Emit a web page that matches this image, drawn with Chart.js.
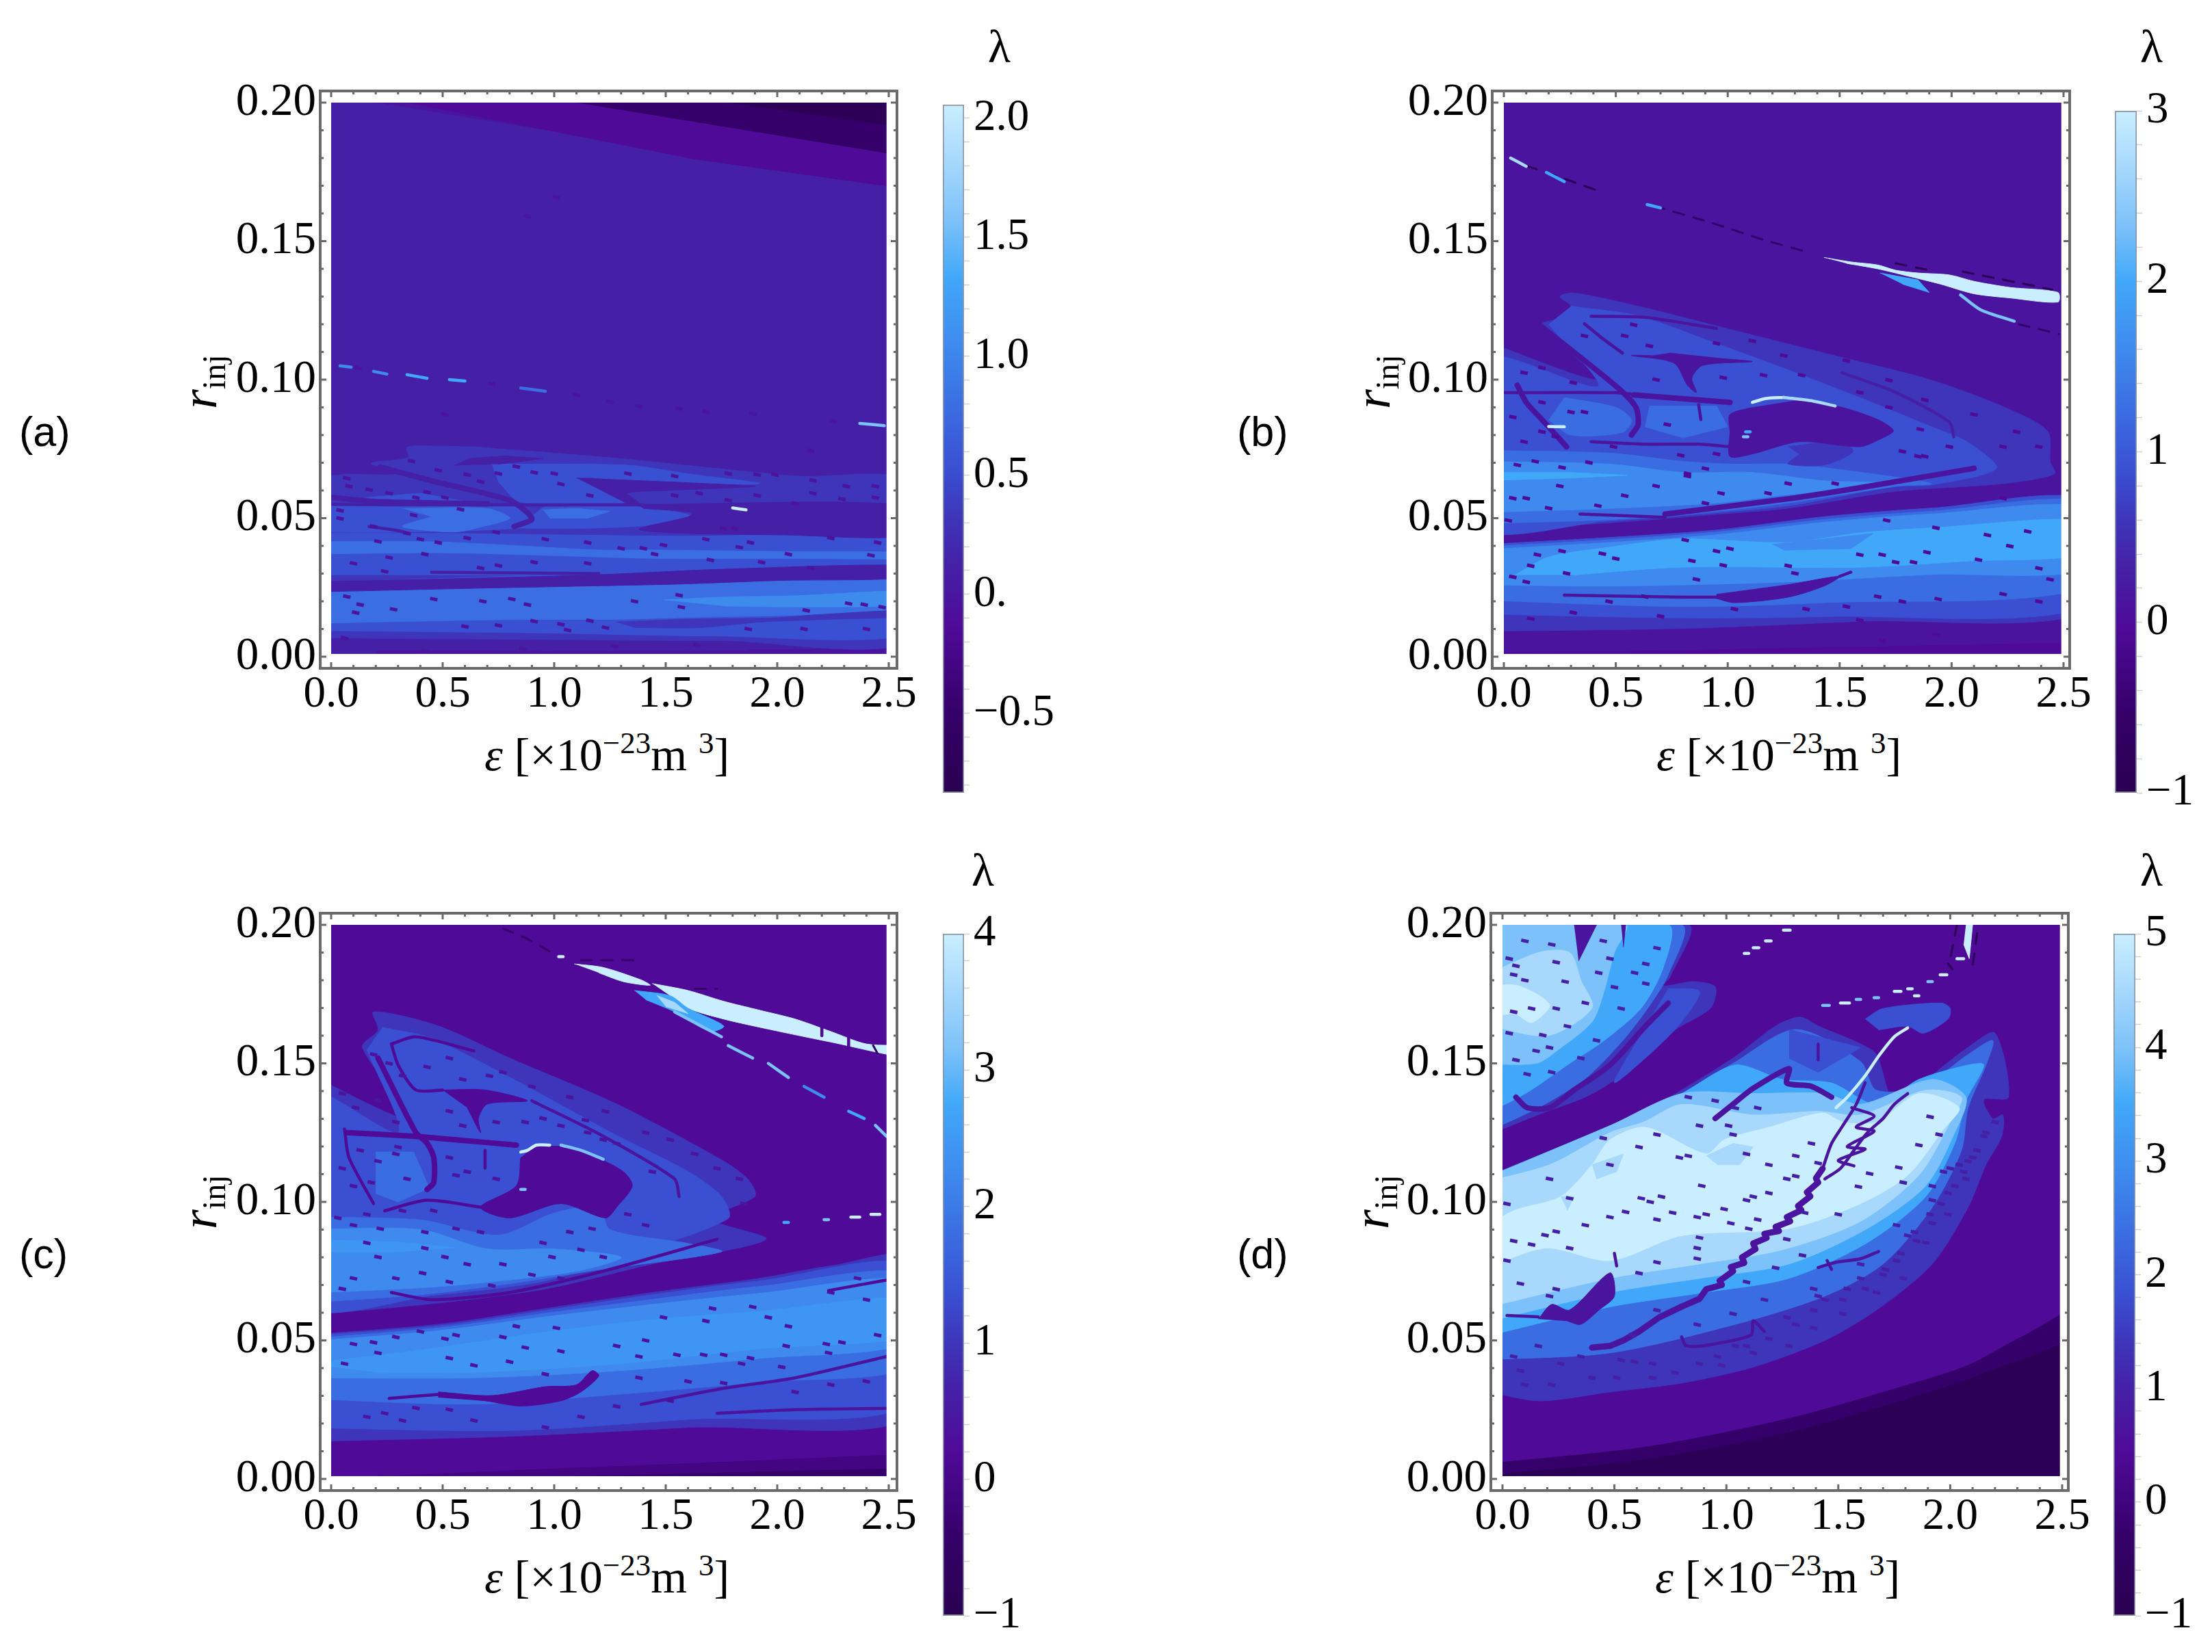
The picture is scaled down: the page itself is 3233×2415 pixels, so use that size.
<!DOCTYPE html>
<html><head><meta charset="utf-8">
<script src="https://cdn.jsdelivr.net/npm/chart.js@4/dist/chart.umd.min.js"></script>
<style>
html,body{margin:0;padding:0;background:#fff;width:3233px;height:2415px;overflow:hidden}
canvas{position:absolute}
.t{position:absolute;font-family:"Liberation Serif",serif;font-size:68px;color:#000;white-space:nowrap;line-height:1}
.t sup{font-size:45px;position:relative;vertical-align:baseline;top:-25px}
.t sub{font-size:48px;position:relative;vertical-align:baseline;top:13px}
.r{font-size:74px}
.s{font-family:"Liberation Sans",sans-serif;font-size:61px}
</style></head><body>
<script>
// ---------- tick labels ----------
const xTicks=[0,0.5,1,1.5,2,2.5];
const yTicks=[0,0.05,0.1,0.15,0.2];
const barTicksA=[-0.5,0,0.5,1,1.5,2];
const barTicksB=[-1,0,1,2,3];
const barTicksC=[-1,0,1,2,3,4];
const barTicksD=[-1,0,1,2,3,4,5];
const barRangeA=[-0.834,2.057], barRangeB=[-1,3], barRangeC=[-1,4], barRangeD=[-1,5];
// ---------- λ value of each contour level, per panel ----------
const levelsA=[-.75,-.49,-.14,-.02,.12,.32,.53,.79,1.05,1.33,1.57,1.82,2.06,-.31,1.16];
const levelsB=[-.88,-.52,-.04,.12,.32,.6,.88,1.24,1.6,2,2.32,2.68,3,-.28,1.76];
const levelsC=[-.85,-.4,.2,.4,.65,1,1.35,1.8,2.25,2.75,3.15,3.6,4,-.1,2.45];
const levelsD=[-.82,-.28,.44,.68,.98,1.4,1.82,2.36,2.9,3.5,3.98,4.52,5,.08,3.14];

// ---------- panel (a) ----------
const regionsA=[
[4,[[0,.001],[2.49,.001],[2.49,.2],[0,.2]]],
[3,[[.2,.001],[2.49,.001],[2.49,.0025],[1.87,.0025],[1.87,.002],[.2,.002]]],
[3,[[.2,.2],[2.49,.2],[2.49,.1685]]],
[2,[[.34,.2],[2.49,.2],[2.49,.1685],[1.6,.18]]],
[1,[[1.1,.2],[2.49,.2],[2.49,.18]]],
[0,[[1.78,.2],[2.49,.2],[2.49,.1905]]],
[5,[[0,.0068],[1,.0062],[1.75,.0058],[2.49,.0068],[2.49,.0619],[2.08,.0652],[1.6,.069],[1.35,.0711],[1,.0735],[.72,.0752],[.67,.0756],[.48,.076],[.34,.0756],[.345,.0719],[.18,.0698],[.3,.066],[.1,.0658],[.06,.0658],[0,.0645]]],
[6,[[0,.0095],[1,.0085],[1.7,.0075],[2.49,.0085],[2.49,.0295],[0,.027]]],
[6,[[0,.0295],[2.49,.0315],[2.49,.0437],[2,.044],[1.6,.0435],[1,.044],[.5,.0445],[0,.0445]]],
[6,[[.72,.0695],[1.05,.0695],[1.35,.069],[1.6,.066],[1.92,.0625],[1.45,.0625],[1.12,.0645],[1.32,.0558],[.85,.0558],[.75,.063]]],
[6,[[0,.0545],[.8,.0545],[.9,.0495],[.85,.0465],[.3,.045],[0,.045]]],
[6,[[.95,.054],[1.4,.054],[1.62,.0505],[1.4,.0472],[.85,.0465],[.88,.0495]]],
[6,[[.1,.0555],[.64,.0555],[.4,.059],[.16,.0575]]],
[7,[[.32,.0535],[.7,.0535],[.8,.05],[.68,.047],[.55,.045],[.32,.047],[.45,.0505]]],
[7,[[.95,.053],[1.1,.0535],[1.25,.0525],[1.15,.05],[.98,.05]]],
[7,[[0,.0415],[.45,.0415],[.85,.04],[1.2,.0385],[1.45,.0385],[2,.038],[2.49,.0375],[2.49,.0355],[2,.0355],[1.45,.0355],[1,.0365],[.5,.0375],[0,.037]]],
[7,[[0,.0233],[.59,.0246],[1.07,.0254],[1.55,.0262],[2,.0275],[2.49,.0287],[2.49,.017],[2.08,.015],[1.6,.0142],[1.28,.0135],[.8,.0134],[0,.012]]],
[8,[[1.49,.0205],[1.76,.0215],[2.08,.022],[2.49,.0235],[2.49,.019],[2.08,.018],[1.76,.0183]]],
[5,[[1.28,.0125],[1.6,.0135],[1.99,.014],[2.15,.015],[2.49,.0168],[2.49,.0147],[2.24,.0135],[1.92,.0125],[1.65,.0105],[1.36,.0105]]],
[4,[[0,.0233],[.59,.0246],[1.07,.0254],[1.55,.0262],[2,.0275],[2.49,.0287],[2.49,.0329],[1.76,.0316],[1.2,.0296],[.48,.028],[0,.027]]],
[4,[[1.37,.055],[2.49,.0545],[2.49,.044],[2,.044],[1.6,.0445],[1.38,.046],[1.6,.0505],[1.62,.052],[1.4,.0535]]],
[4,[[1.1,.0645],[1.68,.0625],[1.9,.0615],[1.5,.06],[1.33,.059],[1.38,.0555],[1.32,.0555]]],
[4,[[.55,.069],[.62,.0715],[.78,.0725],[.95,.0715],[.75,.0695]]]
];
const channelsA=[
[4,[[.22,.0685],[.45,.0635],[.8,.0565],[.88,.052],[.9,.0495],[.82,.047]]],
[4,[[0,.0575],[.2,.056],[.7,.0552]]]
];
const finesA=[
[4,[[0,.055],[.3,.0548],[1.4,.0548]]],
[4,[[.17,.047],[.3,.0455],[.35,.0445]]],
[4,[[.45,.0305],[1.2,.03]]]
];
const specksA=[[.07,.0644],[.08,.0615],[.17,.0603],[.26,.059],[.43,.0594],[.38,.0574],[.51,.0574],[.48,.0673],[.36,.0706],[.61,.0657],[.67,.0632],[.75,.0661],[.83,.0686],[.91,.0665],[1,.0661],[1.16,.0582],[1.03,.0623],[1.33,.0661],[1.54,.0652],[1.65,.059],[1.78,.0661],[1.91,.0657],[1.99,.0657],[2.16,.0636],[2.31,.0615],[2.44,.0615],[2.16,.059],[1.91,.0582],[1.78,.0565],[2.08,.0553],[2.44,.0574],[2.29,.0569],[1.54,.0582],[.58,.0532],[.37,.0511],[.04,.0528],[.04,.0499],[.19,.047],[.34,.0445],[.4,.0424],[.21,.0416],[.48,.0412],[.61,.0428],[.74,.0449],[.96,.0424],[1.15,.0412],[1.3,.0391],[1.49,.0403],[1.68,.0424],[1.88,.0412],[2.24,.0428],[2.45,.0412],[2.05,.037],[1.83,.0395],[1.4,.0391],[.26,.0358],[.42,.037],[.1,.0337],[.24,.0308],[.67,.032],[.75,.0329],[.91,.0341],[1.15,.0337],[1.45,.037],[1.7,.0349],[1.93,.0341],[2.15,.032],[2.42,.0366],[.07,.0217],[.13,.0188],[.28,.0171],[.11,.0159],[.46,.0208],[.68,.02],[.81,.0208],[.88,.0188],[1.36,.02],[1.56,.0222],[1.57,.0179],[2.13,.0167],[2.32,.0192],[2.39,.0188],[2.47,.0179],[.91,.0128],[1.03,.0117],[1.16,.013],[.6,.0109],[.75,.0113],[1.06,.0096],[1.23,.0105],[1.87,.01],[2.12,.01],[2.4,.01],[.06,.0067],[.42,.002],[.86,.0028],[1.27,.0038],[1.64,.0042],[2.15,.0744],[1.76,.0462],[1.81,.0462],[1.01,.1658],[.88,.159],[.51,.0874],[.12,.1042],[.72,.0985],[1.1,.0945],[1.25,.092],[1.38,.0905],[1.56,.0895],[1.68,.0885],[1.89,.0877],[2.25,.085]];
const glintsA=[
[8,[[.04,.105],[.09,.1045]]],[8,[[.19,.103],[.25,.102]]],[9,[[.34,.1018],[.43,.1005]]],[9,[[.53,.1],[.6,.0995]]],[7,[[.85,.097],[.96,.0958]]],[10,[[2.37,.0842],[2.48,.0834]]],[12,[[1.8,.0537],[1.86,.053]]]
];

// ---------- panel (b) ----------
const regionsB=[
[3,[[0,.001],[2.49,.001],[2.49,.2],[0,.2]]],
[2,[[0,.001],[2.49,.001],[2.49,.0045],[1.6,.0035],[.6,.002],[0,.0015]]],
[5,[[0,.0092],[.79,.0102],[1.59,.0128],[2.49,.0168],[2.49,.0559],[1.91,.0536],[1.43,.0505],[.95,.0457],[.47,.043],[0,.0403]]],
[6,[[0,.0155],[.79,.014],[1.43,.0145],[2.49,.0186],[2.49,.0559],[1.91,.0536],[1.43,.0505],[.95,.0457],[.47,.043],[0,.0403]]],
[7,[[0,.0205],[.79,.0181],[1.43,.0195],[2.49,.0255],[2.49,.055],[1.91,.0525],[1.43,.0495],[.95,.045],[.47,.0422],[0,.0395]]],
[8,[[0,.026],[.48,.0255],[1.27,.027],[1.91,.0297],[2.49,.032],[2.49,.0535],[1.91,.0515],[1.43,.0485],[.95,.044],[.47,.0412],[0,.0385]]],
[9,[[.05,.0295],[.2,.036],[.47,.0395],[.79,.0425],[1.27,.0412],[1.59,.0447],[1.91,.0465],[2.49,.049],[2.49,.0375],[2.07,.0345],[1.59,.0323],[.79,.0323],[.31,.0295]]],
[8,[[1.2,.0405],[1.43,.0425],[1.65,.0445],[1.55,.039],[1.25,.0385]]],
[3,[[.95,.0225],[1.27,.026],[1.5,.029],[1.43,.0255],[1.27,.0215],[1.03,.0195],[.95,.021]]],
[5,[[0,.0456],[.47,.0483],[.95,.0514],[1.27,.0536],[1.75,.0597],[2.23,.0625],[2.46,.066],[2.44,.0705],[2.43,.0812],[2.26,.0892],[1.91,.0998],[1.43,.1096],[.95,.1194],[.6,.1265],[.31,.1313],[.25,.13],[.3,.1265],[.27,.1225],[.17,.1198],[.42,.1],[0,.115]]],
[6,[[.3,.1265],[.6,.123],[.95,.113],[1.27,.1035],[1.59,.0935],[1.91,.083],[2.07,.0775],[2.2,.068],[1.91,.062],[1.75,.0615],[1.27,.0545],[.95,.052],[.47,.049],[0,.047],[0,.108],[.42,.0975],[.2,.12]]],
[7,[[0,.0745],[.47,.0735],[.8,.0705],[1.03,.0695],[1.27,.0695],[1.6,.0665],[1.91,.0625],[1.75,.0615],[1.27,.0555],[.95,.0525],[.47,.0495],[0,.048]]],
[8,[[0,.0705],[.47,.0695],[.8,.0665],[1.11,.0665],[1.43,.0635],[1.75,.0625],[1.27,.0585],[.95,.0555],[.47,.0535],[0,.052]]],
[9,[[0,.0665],[.3,.0665],[.55,.0655],[.3,.0645],[0,.0635]]],
[7,[[.27,.0935],[.5,.09],[.57,.0855],[.53,.081],[.3,.08],[.2,.0855]]],
[7,[[.65,.0905],[.95,.0905],[1,.083],[.8,.079],[.63,.083]]],
[5,[[1.27,.0758],[1.51,.0776],[1.56,.074],[1.43,.0692],[1.27,.0696],[1.32,.073]]],
[3,[[1.32,.0927],[1.51,.09],[1.67,.0856],[1.74,.0816],[1.68,.0785],[1.59,.0758],[1.32,.0776],[1.11,.0732],[1.01,.0723],[1.01,.0812],[1.01,.0874],[1.11,.09]]],
[3,[[.74,.1096],[.95,.1078],[1.11,.1065],[.89,.1052],[.84,.1007],[.86,.0954],[.82,.098],[.76,.106],[.57,.1087],[.66,.1087]]],
[12,[[1.43,.1441],[1.55,.1425],[1.67,.1414],[1.75,.1395],[1.85,.1385],[1.99,.1378],[2.1,.1355],[2.26,.1333],[2.475,.1315],[2.475,.128],[2.26,.1295],[2.1,.131],[1.95,.1345],[1.8,.1375],[1.67,.14],[1.53,.142]]],
[9,[[1.68,.1385],[1.85,.136],[1.9,.1315],[1.78,.1345]]]
];
const channelsB=[
[3,[[.17,.119],[.36,.1069],[.52,.0963],[.59,.09],[.6,.0838],[.57,.08]]],
[3,[[.58,.0945],[1.01,.0918]]],
[3,[[.06,.098],[.1,.0918],[.17,.0856],[.28,.0758]]],
[3,[[.72,.0515],[1.27,.057],[1.59,.061],[2.1,.068]]]
];
const finesB=[
[3,[[0,.0953],[.5,.0953],[.6,.0945]]],
[3,[[.87,.091],[.88,.0856]]],
[3,[[.39,.1229],[.63,.1225],[.95,.1185]]],
[3,[[.36,.1202],[.44,.1149],[.53,.1096]]],
[4,[[1.51,.1025],[1.75,.0954],[1.99,.0847],[2.01,.0794]]],
[3,[[.39,.0776],[.63,.0767],[.87,.0767],[1.01,.0758]]],
[3,[[.34,.0515],[.72,.0503]]],
[3,[[.27,.0222],[.8,.0215],[.95,.0215]]],
[3,[[1.5,.029],[1.55,.0305]]],
[0,[[.1,.1772],[.19,.1748],[.41,.1685]]],
[1,[[.67,.1627],[.92,.1568],[1.16,.1505],[1.36,.146]]],
[0,[[1.75,.142],[1.9,.1395]]],
[0,[[2.05,.139],[2.45,.1325]]],
[1,[[2.3,.12],[2.48,.1165]]]
];
const specksB=[[.58,.1198],[.54,.1158],[.36,.1158],[.65,.1122],[.95,.1131],[1.11,.114],[1.25,.1087],[1.53,.1069],[1.72,.0998],[1.88,.0927],[2.1,.0874],[2.29,.0812],[2.39,.0758],[2.23,.0758],[1.99,.0758],[1.88,.0723],[1.78,.0741],[.68,.1],[.98,.1007],[1.16,.1016],[1.33,.1016],[1.59,.0954],[1.72,.09],[1.86,.0821],[.09,.1025],[.17,.1043],[.31,.0989],[.17,.0918],[.36,.0883],[.3,.0883],[.73,.0838],[.04,.0865],[.17,.0812],[.23,.0794],[.09,.0776],[.49,.0758],[.79,.0727],[.95,.0732],[.06,.0692],[.14,.0705],[.26,.0683],[.38,.0701],[.82,.0661],[.9,.0679],[1.27,.0625],[1.48,.0625],[1.85,.0723],[.04,.0572],[.1,.0572],[.25,.0616],[.2,.0536],[.42,.0545],[.54,.0581],[.68,.0616],[.82,.0652],[.97,.059],[.9,.0554],[1.18,.059],[.02,.0492],[.15,.0368],[.26,.0381],[.44,.0372],[.5,.0354],[.81,.0421],[1.01,.039],[.95,.0381],[1.93,.0465],[2.16,.0439],[2.34,.0452],[1.71,.0492],[2.23,.0572],[1.69,.0368],[1.59,.0368],[1.75,.0341],[1.83,.0341],[1.89,.0377],[2.12,.035],[2.26,.0399],[2.39,.0319],[1.27,.0328],[1.3,.0301],[.84,.0346],[.12,.0328],[.04,.0288],[.28,.0301],[.86,.0279],[.98,.033],[.1,.027],[1.67,.0217],[1.78,.0199],[1.94,.0208],[2.23,.0226],[2.39,.0199],[1.53,.0181],[1.35,.0172],[1.03,.0172],[.47,.0199],[.63,.0217],[.31,.0159],[.12,.0137],[.7,.0146],[1.59,.0132],[1.69,.0057],[1.93,.0079],[2.44,.0279]];
const glintsB=[
[11,[[.03,.18],[.1,.177]]],[9,[[.19,.1748],[.27,.1715]]],[9,[[.64,.1632],[.7,.162]]],
[10,[[2.04,.1306],[2.13,.1252],[2.28,.1211]]],
[12,[[1.11,.0918],[1.17,.0932],[1.25,.0936]]],[11,[[1.25,.0936],[1.38,.0923],[1.48,.0905]]],
[12,[[.2,.0831],[.27,.083]]],[10,[[1.07,.0794],[1.09,.0794]]],[9,[[1.08,.0812],[1.1,.0812]]]
];

// ---------- panel (c) ----------
const regionsC=[
[2,[[0,.001],[2.49,.001],[2.49,.2],[0,.2]]],
[13,[[.2,.001],[2.49,.001],[2.49,.009],[1.6,.0055],[.8,.003]]],
[1,[[1.1,.001],[2.49,.001],[2.49,.004]]],
[5,[[0,.0135],[.8,.0154],[1.6,.0186],[2.49,.0231],[2.49,.0795],[2.24,.0769],[1.92,.0724],[1.44,.0673],[.96,.0615],[.48,.0558],[0,.0519]]],
[6,[[0,.0185],[.8,.0175],[1.6,.0215],[2.49,.0275],[2.49,.0765],[1.92,.0715],[1.44,.0665],[.96,.0608],[.48,.0552],[0,.0515]]],
[7,[[0,.029],[.64,.027],[1.28,.0305],[1.92,.035],[2.49,.0415],[2.49,.0735],[1.92,.0695],[1.44,.0648],[.96,.0598],[.48,.0545],[0,.0505]]],
[8,[[0,.0365],[.64,.0365],[1.28,.039],[1.92,.0435],[2.49,.05],[2.49,.0715],[1.92,.067],[1.44,.063],[.96,.0585],[.48,.0535],[0,.0495]]],
[14,[[0,.0415],[.4,.0465],[.96,.053],[1.44,.0575],[1.92,.0605],[2.49,.065],[2.49,.052],[1.92,.047],[1.28,.0415],[.64,.0385],[.2,.0385]]],
[2,[[.48,.0314],[.72,.0301],[.96,.0333],[1.1,.034],[1.17,.0391],[1.2,.0372],[1.12,.0314],[1.03,.0282],[.85,.0263],[.69,.0282],[.48,.0295]]],
[5,[[0,.059],[.48,.0635],[.96,.0686],[1.44,.0776],[1.95,.0865],[1.7,.094],[1.9,.102],[1.87,.108],[1.76,.1147],[1.28,.1353],[.8,.1519],[.48,.1635],[.19,.1686],[.21,.162],[.14,.1558],[.35,.13],[0,.1468]]],
[6,[[.23,.163],[.45,.159],[.8,.145],[1.28,.124],[1.6,.111],[1.75,.102],[1.78,.094],[1.3,.08],[.96,.0715],[.48,.0665],[0,.063],[0,.14],[.3,.125],[.16,.155]]],
[7,[[0,.0945],[.4,.0935],[.75,.088],[1,.096],[1.2,.098],[1.25,.09],[1.6,.085],[1.75,.082],[1.2,.0755],[.8,.0705],[.4,.0665],[0,.0635]]],
[8,[[0,.09],[.4,.09],[.7,.083],[1,.083],[1.3,.08],[1.1,.075],[.7,.071],[.4,.069],[0,.067]]],
[14,[[0,.0865],[.3,.0855],[.55,.0835],[.3,.082],[0,.082]]],
[7,[[.2,.118],[.37,.118],[.44,.105],[.3,.1],[.2,.103]]],
[2,[[.91,.1199],[1.04,.1199],[1.19,.116],[1.31,.1109],[1.35,.1058],[1.28,.0981],[1.23,.0942],[1.03,.0994],[.8,.0942],[.67,.0981],[.83,.1058],[.85,.116]]],
[2,[[.5,.1404],[.69,.1404],[.88,.1365],[.7,.1353],[.66,.1301],[.67,.125],[.61,.134]]],
[12,[[1.44,.1788],[1.6,.1763],[1.76,.1724],[1.92,.1692],[2.08,.166],[2.24,.1615],[2.4,.157],[2.49,.1558],[2.49,.1517],[2.24,.1577],[1.97,.1622],[1.76,.166],[1.6,.1699],[1.52,.1744]]],
[12,[[1.09,.1859],[1.22,.1846],[1.39,.1801],[1.43,.1782],[1.31,.1795],[1.2,.1827]]],
[9,[[1.36,.1763],[1.52,.1744],[1.6,.1699],[1.76,.1635],[1.7,.1615],[1.54,.1686],[1.41,.173]]],
[11,[[1.46,.1745],[1.54,.172],[1.6,.168],[1.5,.1705]]]
];
const channelsC=[
[2,[[.21,.1519],[.38,.125],[.43,.1212],[.46,.116],[.46,.107],[.43,.1045]]],
[2,[[.07,.125],[.37,.1237],[.56,.1224],[.83,.1205]]]
];
const finesC=[
[2,[[.69,.1186],[.69,.1122]]],
[2,[[.06,.1263],[.08,.116],[.19,.0994]]],
[2,[[.24,.0968],[.43,.1006],[.67,.0981]]],
[2,[[.27,.157],[.38,.1596],[.64,.1545]]],
[2,[[.27,.157],[.3,.1494],[.38,.1404],[.5,.1404]]],
[3,[[.9,.1365],[1.22,.1237],[1.54,.1083],[1.56,.1019]]],
[2,[[.27,.0673],[.45,.0647],[.8,.0673],[1.22,.075],[1.73,.0865]]],
[2,[[.26,.0291],[.48,.0305]]],
[3,[[1.39,.0269],[1.76,.0327],[2.08,.0365],[2.49,.0442]]],
[3,[[1.73,.0237],[2.08,.025],[2.49,.0255]]],
[2,[[2.23,.068],[2.49,.0718]]],
[1,[[.77,.1987],[.88,.1949],[.98,.1904]]],
[1,[[1.12,.1872],[1.38,.1872]]],
[1,[[1.63,.1769],[1.73,.1769]]],
[2,[[2.32,.1595],[2.32,.156]]],
[2,[[2.2,.1635],[2.2,.16]]],
[1,[[2.43,.1565],[2.45,.1535]]]
];
const specksC=[[.19,.1532],[.26,.15],[.32,.1455],[.43,.1487],[.53,.1519],[.59,.1442],[.71,.1455],[.77,.1468],[.9,.1416],[1.07,.1378],[1.14,.1295],[1.23,.1327],[1.41,.125],[1.52,.1224],[1.63,.1173],[1.73,.1121],[1.83,.1083],[1.85,.0993],[1.28,.1211],[1.44,.1109],[.05,.1391],[.11,.134],[.21,.1365],[.29,.1288],[.53,.1327],[.59,.1275],[.74,.1288],[.87,.1288],[.95,.1301],[1.03,.1275],[1.15,.125],[1.22,.1224],[.13,.1186],[.29,.1173],[.21,.1147],[.3,.1198],[.34,.1083],[.18,.107],[.53,.116],[.56,.1096],[.05,.1121],[.1,.1057],[.61,.1109],[.74,.1083],[.03,.0942],[.16,.0955],[.32,.0968],[.46,.0968],[.1,.0916],[.22,.0903],[.42,.0891],[.56,.0903],[.67,.0891],[.95,.0852],[1.07,.0891],[1.17,.0903],[1.33,.0955],[1.41,.0916],[.16,.0852],[.42,.0833],[.21,.0801],[.51,.0801],[.61,.0775],[.1,.0724],[.29,.0724],[.41,.0743],[.53,.0711],[.77,.0775],[.99,.0801],[1.12,.0827],[1.22,.0801],[.05,.0686],[.9,.0737],[.72,.0698],[1.03,.0724],[.1,.0487],[.19,.0493],[.29,.0512],[.4,.0532],[.51,.0506],[.56,.0519],[.77,.0512],[.83,.0551],[1.01,.0545],[1.41,.05],[1.28,.048],[1.49,.0583],[1.68,.057],[1.71,.0615],[1.89,.0621],[1.96,.0583],[2.05,.0551],[2.22,.0487],[2.29,.0493],[2.45,.0519],[1.55,.0448],[1.67,.0448],[1.76,.0448],[1.88,.0436],[2.04,.048],[2.23,.0455],[1.84,.0416],[2.02,.0404],[1.38,.0442],[1.03,.0461],[.87,.0474],[.53,.0436],[.21,.0455],[.06,.0416],[.64,.041],[.8,.0423],[.96,.0378],[1.38,.0365],[1.6,.0352],[1.76,.0346],[.38,.0256],[.53,.025],[.24,.0237],[.16,.0224],[.32,.0211],[.64,.0211],[.96,.0186],[1.12,.0224],[1.28,.0262],[1.52,.0282],[2.08,.0314],[2.24,.034],[2.4,.0352],[2.36,.0724],[2.24,.0673],[2.4,.0647]];
const glintsC=[
[10,[[1.54,.1686],[1.75,.1596]]],[10,[[1.78,.1564],[1.89,.1519]]],[10,[[1.96,.15],[2.05,.1449]]],[8,[[2.12,.1417],[2.21,.1378]]],[9,[[2.32,.1327],[2.39,.1301]]],[10,[[2.44,.1276],[2.49,.1237]]],
[12,[[1.02,.1885],[1.04,.1885]]],[10,[[.85,.1045],[.87,.1045]]],[9,[[2.03,.0926],[2.05,.0926]]],[10,[[2.21,.0936],[2.23,.0936]]],[12,[[2.33,.0945],[2.37,.0945]]],[12,[[2.42,.0955],[2.46,.0955]]],
[12,[[.85,.118],[.88,.1186],[.92,.1205],[.98,.1205]]],[10,[[1.03,.1205],[1.12,.1186],[1.22,.1154]]]
];

// ---------- panel (d) ----------
const regionsD=[
[2,[[0,.001],[2.49,.001],[2.49,.2],[0,.2]]],
[1,[[0,.001],[2.49,.001],[2.49,.0615],[2.32,.0513],[2.08,.041],[1.76,.0327],[1.28,.0218],[.64,.0115],[0,.0051]]],
[0,[[0,.001],[2.49,.001],[2.49,.0494],[2.32,.043],[2.08,.0359],[1.76,.0276],[1.28,.0167],[.64,.007],[.03,.002]]],
[6,[[1.62,.166],[1.7,.1698],[1.96,.1718],[2,.1698],[1.99,.166],[1.88,.1609],[1.81,.1634],[1.68,.1621]]],
[5,[[0,.0327],[.16,.0282],[.48,.0314],[.8,.0346],[1.12,.0404],[1.44,.05],[1.68,.0615],[1.92,.0776],[2.08,.0981],[2.16,.1135],[2.23,.1237],[2.235,.1314],[2.19,.13],[2.15,.137],[2.26,.1378],[2.2,.1609],[2.08,.1558],[1.875,.143],[1.75,.1359],[1.67,.1532],[1.6,.157],[1.41,.1635],[1.33,.1667],[1.22,.1635],[1.03,.1519],[.64,.1327],[.32,.1186],[0,.1077]]],
[7,[[0,.0429],[.48,.0455],[1.04,.0558],[1.44,.066],[1.7,.0776],[1.92,.0981],[2.05,.1186],[2.08,.134],[2.16,.1494],[2.19,.1583],[2.08,.1532],[1.875,.1417],[1.67,.1403],[1.6,.1506],[1.31,.1622],[1.03,.15],[.64,.1314],[.32,.1173],[0,.1073]]],
[9,[[0,.0506],[.48,.0621],[.9,.0673],[1.28,.0724],[1.63,.0853],[1.89,.1019],[2.02,.1211],[2.07,.1365],[2.15,.1494],[2.08,.1494],[1.86,.1442],[1.67,.1352],[1.47,.1429],[1.25,.1442],[1.04,.1494],[.8,.1391],[.48,.1275],[0,.1073]]],
[10,[[0,.0557],[.48,.0673],[.88,.0724],[1.28,.0776],[1.63,.0904],[1.89,.1058],[2.02,.125],[2.07,.1378],[1.92,.1442],[1.6,.1352],[1.44,.1391],[1.12,.1391],[.8,.1391],[.48,.1275],[0,.1071]]],
[11,[[0,.0609],[.48,.0724],[.88,.0776],[1.25,.0827],[1.6,.093],[1.86,.1096],[2,.1288],[2.05,.1378],[1.89,.1403],[1.6,.1314],[1.41,.1327],[1.12,.1314],[.8,.1352],[.63,.1288],[.48,.125],[.21,.1134],[0,.1064]]],
[12,[[0,.0743],[.19,.0833],[.48,.0788],[.8,.0878],[1.28,.0904],[1.6,.0994],[1.81,.1096],[1.97,.1262],[2.04,.134],[1.86,.1391],[1.67,.1288],[1.52,.1288],[1.43,.1321],[1.19,.1269],[.99,.1224],[.91,.1173],[.64,.1269],[.48,.1224],[.4,.1134],[.26,.1019],[.05,.0968],[0,.0891]]],
[11,[[.91,.1166],[1.03,.1211],[1.12,.1198],[1.06,.1134],[.96,.1134]]],
[11,[[.4,.1134],[.54,.1173],[.51,.1109],[.42,.1083]]],
[11,[[.26,.1019],[.32,.1019],[.29,.097]]],
[6,[[1.28,.1622],[1.6,.1557],[1.41,.1468],[1.28,.1519]]],
[5,[[0,.2],[.83,.2],[.75,.1814],[.72,.178],[.85,.1795],[.95,.1776],[.93,.17],[.77,.162],[.64,.152],[.4,.139],[.16,.1315],[0,.1224]]],
[7,[[0,.2],[.8,.2],[.74,.182],[.66,.1712],[.54,.1585],[.37,.1445],[.16,.134],[0,.1235]]],
[6,[[.74,.177],[.88,.176],[.8,.165],[.68,.155],[.5,.143],[.6,.158]]],
[9,[[0,.2],[.74,.2],[.72,.185],[.62,.17],[.45,.158],[.3,.15],[.1,.139],[0,.13]]],
[10,[[0,.2],[.55,.2],[.5,.19],[.45,.175],[.4,.165],[.25,.155],[.15,.15],[0,.15]]],
[11,[[0,.18],[.16,.19],[.3,.19],[.35,.18],[.4,.17],[.2,.16],[0,.165]]],
[12,[[0,.1769],[.06,.1782],[.21,.1712],[.13,.1647],[.05,.168],[0,.165]]],
[3,[[.32,.2],[.42,.2],[.34,.187]]],
[3,[[.53,.2],[.55,.2],[.54,.192]]],
[3,[[.16,.0577],[.22,.063],[.3,.061],[.48,.0744],[.5,.066],[.43,.0609],[.35,.0558],[.29,.057]]],
[12,[[2.07,.2],[2.1,.2],[2.085,.1878],[2.06,.193]]]
];
const channelsD=[
[3,[[.74,.1717],[.64,.1635],[.48,.1494],[.32,.1404],[.21,.134],[.11,.134],[.06,.1378]]],
[3,[[.95,.1301],[1.03,.1353],[1.12,.141],[1.28,.1481],[1.27,.1429],[1.38,.1417],[1.47,.1378]]],
[3,[[1.43,.112],[1.4,.1085],[1.41,.107],[1.36,.1035],[1.375,.102],[1.32,.0985],[1.335,.097],[1.27,.0945],[1.285,.093],[1.22,.091],[1.235,.0895],[1.17,.0885],[1.18,.087],[1.12,.085],[1.13,.083],[1.07,.08],[1.08,.078],[1.02,.0765],[1.03,.075],[.97,.0715],[.98,.07],[.91,.0685],[.88,.065],[.8,.0622],[.7,.0583],[.61,.0532],[.54,.05],[.48,.048],[.4,.0474]]]
];
const finesD=[
[3,[[1.62,.143],[1.58,.1352],[1.52,.1275],[1.47,.1211],[1.43,.112]]],
[3,[[1.81,.1391],[1.75,.1352],[1.7,.1301],[1.63,.125],[1.57,.1186],[1.51,.1121],[1.44,.1083]]],
[3,[[1.56,.134],[1.66,.131],[1.58,.127],[1.66,.1255],[1.54,.12],[1.62,.119],[1.5,.115],[1.57,.113]]],
[3,[[.02,.059],[.16,.0585]]],
[3,[[.5,.0814],[.51,.0769]]],
[3,[[.8,.0513],[.82,.0481],[.9,.0481],[1.11,.0519],[1.12,.0571],[1.17,.0532]]],
[3,[[1.41,.0763],[1.49,.0782],[1.6,.0795],[1.68,.0821]]],
[3,[[1.45,.0788],[1.47,.0756]]],
[3,[[1.41,.157],[1.41,.1513]]],
[0,[[2.03,.2],[2,.1878]]],
[0,[[2.12,.197],[2.1,.185]]],
[0,[[1.99,.186],[2.01,.184]]]
];
const specksD=[[.06,.1852],[.05,.182],[.1,.18],[.24,.1865],[.28,.1795],[.43,.1827],[.37,.1718],[.05,.1686],[.13,.1698],[.24,.1698],[.18,.1602],[.03,.1609],[.21,.1557],[.42,.1583],[.06,.1512],[.11,.1461],[.22,.1468],[.15,.1545],[.29,.1634],[.48,.1878],[.59,.1827],[.64,.1859],[.5,.1775],[.53,.1698],[.03,.1878],[.1,.1942],[.22,.1929],[.45,.1942],[.69,.1916],[.64,.1788],[.35,.1519],[.45,.123],[.69,.1243],[.61,.1198],[.83,.1378],[.95,.1365],[1.04,.1339],[1.14,.1339],[.88,.1275],[1.01,.1275],[1.03,.1243],[.79,.116],[.83,.1166],[1.09,.1173],[1.19,.1134],[1.31,.1166],[1.41,.114],[1.38,.1211],[1.27,.1083],[1.31,.1093],[1.12,.1019],[1.09,.1006],[1.19,.1032],[.71,.1019],[.62,.1013],[.66,.1],[.89,.1058],[.21,.1083],[.3,.1013],[.48,.1134],[.55,.0964],[.69,.0936],[.48,.0945],[.37,.0916],[.24,.0893],[.19,.088],[.3,.0833],[.13,.0846],[.05,.0859],[.02,.0993],[.02,.0788],[.76,.0961],[.87,.0945],[.91,.0955],[.99,.0974],[1.02,.0923],[1.14,.0936],[1.1,.0903],[.88,.0871],[.87,.0833],[1.27,.0865],[1.35,.0961],[1.59,.1055],[1.64,.1102],[1.77,.1124],[1.79,.107],[1.86,.1205],[1.91,.1307],[1.95,.1243],[1.5,.0955],[.08,.0705],[.24,.0685],[.21,.066],[.61,.0743],[.69,.0782],[.87,.0795],[1.39,.0686],[1.22,.0762],[1.34,.0807],[1.6,.0724],[1.76,.0788],[1.84,.0891],[1.92,.1006],[1.99,.1032],[2.04,.1134],[2.08,.1147],[1.97,.1109],[1.91,.0955],[1.81,.0878],[1.7,.0737],[1.52,.0647],[1.39,.0609],[1.27,.0583],[1.17,.0647],[1.09,.0711],[1.03,.0596],[.87,.0557],[.69,.0609],[.58,.0519],[.67,.0416],[.53,.0429],[.35,.0442],[.16,.048],[.26,.0416],[.08,.0391],[.05,.0442],[.51,.0365],[.67,.0365],[.88,.0416],[.96,.0442],[1.04,.048],[1.39,.0545],[1.28,.048],[1.12,.0455],[1.52,.0596],[1.67,.0673],[1.79,.0724],[1.89,.0853],[1.99,.0955],[2.07,.1083],[2.12,.1186],[2.16,.125],[2.1,.116],[2.06,.1109],[2.02,.1057],[1.96,.0993],[1.92,.0923],[1.85,.0859],[1.78,.0814],[1.71,.0756],[1.62,.0686],[1.54,.0686],[1.44,.0647],[1.31,.0557],[1.19,.0506],[1.09,.048],[.98,.041],[.77,.0384],[.59,.0423],[.4,.0365],[.22,.034],[.1,.034],[2.15,.1237],[2.2,.1288],[2,.1121],[1.92,.1057],[1.76,.0916],[1.6,.0775],[1.41,.066]];
const glintsD=[
[12,[[1.81,.1628],[1.75,.1596],[1.68,.1526],[1.62,.1455],[1.54,.1378],[1.49,.134]]],
[10,[[1.43,.1709],[1.46,.1709]]],[12,[[1.51,.1718],[1.55,.1718]]],[10,[[1.58,.1731],[1.6,.1731]]],[10,[[1.66,.1737],[1.68,.1737]]],[12,[[1.75,.176],[1.78,.176]]],[12,[[1.81,.1769],[1.83,.1769]]],[12,[[1.84,.1744],[1.86,.1744]]],[10,[[1.9,.1795],[1.92,.1795]]],[12,[[1.955,.182],[1.985,.182]]],[12,[[2.03,.1878],[2.06,.1878]]],
[12,[[1.08,.1897],[1.1,.1897]]],[12,[[1.12,.1917],[1.145,.1917]]],[12,[[1.175,.1942],[1.2,.1942]]],[12,[[1.255,.1981],[1.285,.1981]]]
];

// ---------- colour map (position 0–1 → colour) ----------
const ramp=[[0,'#2a0050'],[.12,'#36006a'],[.24,'#4f0a98'],[.33,'#4520a6'],[.40,'#3e35ba'],[.47,'#3a4fd2'],[.56,'#3b6de2'],[.65,'#3e8aee'],[.75,'#41a8f9'],[.83,'#7cc1f9'],[.92,'#a8d9fc'],[1,'#c9eeff']];
function hex(c){return [1,3,5].map(i=>parseInt(c.substr(i,2),16));}
function colorAt(t){t=Math.max(0,Math.min(1,t));
  for(let i=1;i<ramp.length;i++){if(t<=ramp[i][0]){const a=ramp[i-1],b=ramp[i],f=(t-a[0])/(b[0]-a[0]),A=hex(a[1]),B=hex(b[1]);
    return 'rgb('+A.map((v,k)=>Math.round(v+(B[k]-v)*f)).join(',')+')';}}
  return ramp[ramp.length-1][1];}

// ---------- page layout (pixels) ----------
const panels=[
 {tag:'(a)',regions:regionsA,channels:channelsA,fines:finesA,specks:specksA,glints:glintsA,levels:levelsA,speck:3,barTicks:barTicksA,range:barRangeA,step:.1,labels:v=>v===0?'0.':(v<0?'\u2212':'')+Math.abs(v).toFixed(1),
  L:468,R:1311,T:133,B:977,x0:484,x1:1299,y0:960,y1:150,bL:1378,bR:1409,bT:153,bB:1159,lam:1461,lamY:88,tagX:28,tagY:650,xt:708,xtY:1123,rX:280,rY:562},
 {tag:'(b)',regions:regionsB,channels:channelsB,fines:finesB,specks:specksB,glints:glintsB,levels:levelsB,speck:2,barTicks:barTicksB,range:barRangeB,step:.2,labels:null,
  L:2181,R:3025,T:133,B:977,x0:2198,x1:3016,y0:960,y1:150,bL:3091,bR:3123,bT:162,bB:1159,lam:3145,lamY:88,tagX:1808,tagY:650,xt:2421,xtY:1123,rX:1995,rY:562},
 {tag:'(c)',regions:regionsC,channels:channelsC,fines:finesC,specks:specksC,glints:glintsC,levels:levelsC,speck:3,barTicks:barTicksC,range:barRangeC,step:.2,labels:null,
  L:468,R:1311,T:1335,B:2179,x0:484,x1:1299,y0:2162,y1:1352,bL:1378,bR:1409,bT:1365,bB:2362,lam:1437,lamY:1292,tagX:28,tagY:1852,xt:708,xtY:2325,rX:280,rY:1761},
 {tag:'(d)',regions:regionsD,channels:channelsD,fines:finesD,specks:specksD,glints:glintsD,levels:levelsD,speck:4,barTicks:barTicksD,range:barRangeD,step:.2,labels:null,
  L:2179,R:3023,T:1335,B:2179,x0:2196,x1:3014,y0:2162,y1:1352,bL:3089,bR:3121,bT:1365,bB:2362,lam:3145,lamY:1292,tagX:1808,tagY:1852,xt:2419,xtY:2325,rX:1993,rY:1761}
];

function addCanvas(l,t,w,h){const c=document.createElement('canvas');c.width=w;c.height=h;c.style.left=l+'px';c.style.top=t+'px';c.style.width=w+'px';c.style.height=h+'px';document.body.appendChild(c);return c;}
function addText(html,l,baseline,cls){const d=document.createElement('div');d.className='t '+(cls||'');d.innerHTML=html;d.style.left=l+'px';d.style.top=(baseline-(cls==='s'?49:54))+'px';document.body.appendChild(d);return d;}

const frameTicks={id:'frameTicks',afterDatasetsDraw(chart){
  const {ctx,chartArea:a,scales:{x,y}}=chart;ctx.save();
  // the map stops short of the frame: keep the margin white
  const iL=x.getPixelForValue(0),iR=x.getPixelForValue(2.49),iT=y.getPixelForValue(.2),iB=y.getPixelForValue(.001);
  ctx.fillStyle='#fff';
  ctx.fillRect(a.left,a.top,iL-a.left,a.bottom-a.top);ctx.fillRect(iR,a.top,a.right-iR,a.bottom-a.top);
  ctx.fillRect(a.left,a.top,a.right-a.left,iT-a.top);ctx.fillRect(a.left,iB,a.right-a.left,a.bottom-iB);
  ctx.strokeStyle='#6a6a6a';ctx.lineWidth=3;
  ctx.beginPath();
  for(let i=0;i<=25;i++){const v=i/10,p=x.getPixelForValue(v),len=i%5===0?9:5;ctx.moveTo(p,a.bottom);ctx.lineTo(p,a.bottom-len);ctx.moveTo(p,a.top);ctx.lineTo(p,a.top+len);}
  for(let i=0;i<=20;i++){const v=i/100,p=y.getPixelForValue(v),len=i%5===0?9:5;ctx.moveTo(a.left,p);ctx.lineTo(a.left+len,p);ctx.moveTo(a.right,p);ctx.lineTo(a.right-len,p);}
  ctx.stroke();ctx.lineWidth=4;ctx.strokeRect(a.left,a.top,a.right-a.left,a.bottom-a.top);ctx.restore();
}};

panels.forEach(p=>{
  const col=i=>colorAt((p.levels[i]-p.range[0])/(p.range[1]-p.range[0]));
  const toXY=a=>a.map(q=>({x:q[0],y:q[1]}));
  // contour shapes that reach the map's side edges run on past them, so the smoothed outline stays straight at the edge (the white margin masks the overrun)
  const overrun=a=>a.map(q=>({x:q[0]>=2.49?2.62:q[0]<=0?-.12:q[0],y:q[1]}));
  const ds=[];
  p.regions.forEach(r=>ds.push({data:overrun(r[1]),showLine:true,fill:'shape',backgroundColor:col(r[0]),borderColor:col(r[0]),borderWidth:1,pointRadius:0,tension:r[1].length>=6?.28:0}));
  const line=(r,w,dash)=>ds.push({data:toXY(r[1]),showLine:true,fill:false,borderColor:col(r[0]),borderWidth:w,borderDash:dash||[],pointRadius:0,tension:r[1].length>20?0:.25,borderCapStyle:'round',borderJoinStyle:'round'});
  p.channels.forEach(r=>line(r,r[1].length>20?9:8));
  p.fines.forEach(r=>r[0]<=1?line(r,3,[16,14]):line(r,4.5));
  ds.push({data:toXY(p.specks),showLine:false,pointStyle:'line',pointRotation:12,pointRadius:5.5,pointBorderWidth:5,pointBorderColor:col(p.speck),pointBackgroundColor:col(p.speck)});
  p.glints.forEach(r=>line(r,4.5));
  ds.reverse();

  const padL=200,padR=60,padT=60,padB=75;
  const c=addCanvas(p.L-padL,p.T-padT,p.R-p.L+padL+padR,p.B-p.T+padT+padB);
  const kx=2.5/(p.x1-p.x0), ky=.2/(p.y0-p.y1);
  const serif={family:'"Liberation Serif",serif',size:65};
  const serifY={family:'"Liberation Serif",serif',size:67};
  new Chart(c,{type:'scatter',data:{datasets:ds},plugins:[frameTicks],options:{
    responsive:false,animation:false,devicePixelRatio:1,
    layout:{padding:{top:padT,right:padR,left:0,bottom:0}},
    plugins:{legend:{display:false},tooltip:{enabled:false}},
    scales:{
      x:{type:'linear',min:(p.L-p.x0)*kx,max:(p.R-p.x0)*kx,grid:{display:false,drawTicks:false},border:{display:false},
         afterBuildTicks:s=>{s.ticks=xTicks.map(v=>({value:v}));},afterFit:s=>{s.height=padB;},
         ticks:{color:'#000',font:serif,padding:0,maxRotation:0,autoSkip:false,callback:v=>v.toFixed(1)}},
      y:{type:'linear',min:(p.y0-p.B)*ky,max:(p.y0-p.T)*ky,grid:{display:false,drawTicks:false},border:{display:false},
         afterBuildTicks:s=>{s.ticks=yTicks.map(v=>({value:v}));},afterFit:s=>{s.width=padL;},
         ticks:{color:'#000',font:serifY,padding:6,autoSkip:false,callback:v=>v.toFixed(2)}}
    }}});

  // colour bar
  const tickVals=[];const n=Math.round((p.range[1]-p.range[0])/p.step)+2;
  const first=Math.ceil((p.range[0]-1e-9)/p.step);
  for(let i=0;i<n;i++){const v=+( (first+i)*p.step ).toFixed(4);if(v<=p.range[1]+1e-9)tickVals.push(v);}
  const barPad=45,axisW=190;
  const bc=addCanvas(p.bL,p.bT-barPad,p.bR-p.bL+axisW,p.bB-p.bT+2*barPad);
  const grad=ctx=>{const a=ctx.chart.chartArea;if(!a)return '#3a4fd2';const g=ctx.chart.ctx.createLinearGradient(0,a.bottom,0,a.top);ramp.forEach(s=>g.addColorStop(s[0],s[1]));return g;};
  new Chart(bc,{type:'bar',data:{labels:['λ'],datasets:[{data:[p.range],backgroundColor:grad,borderColor:'#8b97a8',borderWidth:2,borderSkipped:false,barPercentage:1,categoryPercentage:1}]},options:{
    responsive:false,animation:false,devicePixelRatio:1,
    layout:{padding:{top:barPad,bottom:barPad,left:0,right:0}},
    plugins:{legend:{display:false},tooltip:{enabled:false}},
    scales:{
      x:{display:false},
      y:{position:'right',min:p.range[0],max:p.range[1],border:{display:false},
         grid:{drawOnChartArea:false,drawTicks:true,tickLength:8,tickColor:'#cfcfcf',tickWidth:1.5},
         afterBuildTicks:s=>{s.ticks=tickVals.map(v=>({value:v}));},afterFit:s=>{s.width=axisW;},
         ticks:{color:'#000',font:serif,padding:6,autoSkip:false,callback:v=>{const m=p.barTicks.find(t=>Math.abs(t-v)<1e-6);if(m===undefined)return '';return p.labels?p.labels(m):(m<0?'\u2212':'')+Math.abs(m);}}}
    }}});

  // texts
  addText('λ',p.lam-17,p.lamY);
  addText(p.tag,p.tagX,p.tagY,'s');
  addText('<i>ε</i> [×10<sup>−23</sup>m <sup>3</sup>]',p.xt,p.xtY);
  const r=addText('<i>r</i><sub>inj</sub>',p.rX,p.rY,'r');
  r.style.transformOrigin='0 0';r.style.transform='translate(-26px,36px) rotate(-90deg)';r.style.top=p.rY+'px';
});
</script>
</body></html>
